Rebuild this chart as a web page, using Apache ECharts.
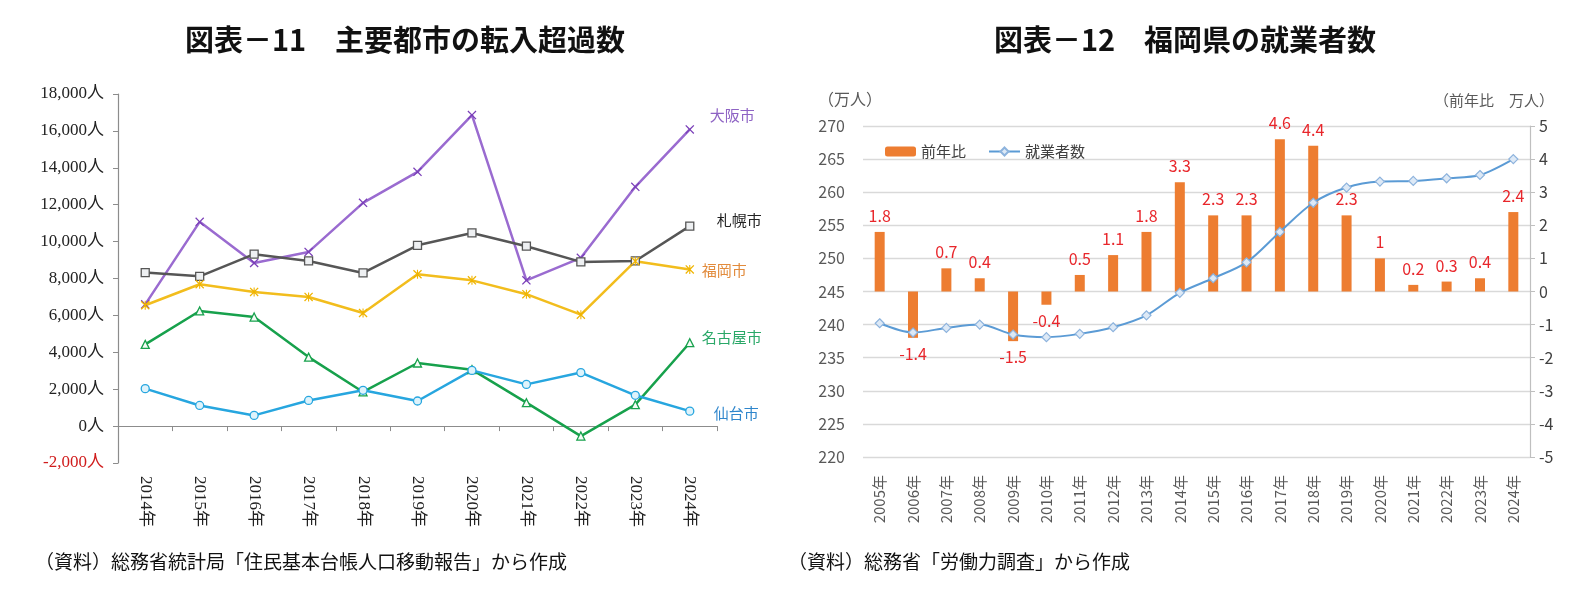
<!DOCTYPE html>
<html>
<head>
<meta charset="utf-8">
<script src="https://cdn.jsdelivr.net/npm/echarts@6/dist/echarts.min.js"></script>
<style>
  html, body { margin: 0; padding: 0; background: #fff; }
  #main { width: 1586px; height: 605px; }
</style>
</head>
<body>
<div id="main"></div>
<script>
// =====================
// データ（図表－11）
// =====================

const cityYears = ["2014年", "2015年", "2016年", "2017年", "2018年", "2019年", "2020年", "2021年", "2022年", "2023年", "2024年"];

const osaka = [6600, 11070, 8840, 9440, 12100, 13780, 16860, 7900, 9120, 12970, 16080];
const sapporo = [8320, 8120, 9320, 8950, 8300, 9800, 10470, 9750, 8900, 8950, 10840];
const fukuoka = [6550, 7690, 7270, 7000, 6130, 8230, 7900, 7150, 6040, 8940, 8490];
const nagoya = [4430, 6240, 5910, 3740, 1850, 3420, 3060, 1270, -540, 1160, 4520];
const sendai = [2030, 1120, 580, 1390, 1940, 1360, 3020, 2260, 2900, 1670, 810];

const cityTicks = { min: -2000, max: 18000, interval: 2000 };

// =====================
// データ（図表－12）
// =====================

const workYears = ["2005年", "2006年", "2007年", "2008年", "2009年", "2010年", "2011年", "2012年", "2013年", "2014年",
  "2015年", "2016年", "2017年", "2018年", "2019年", "2020年", "2021年", "2022年", "2023年", "2024年"];

const yoyChange = [1.8, -1.4, 0.7, 0.4, -1.5, -0.4, 0.5, 1.1, 1.8, 3.3, 2.3, 2.3, 4.6, 4.4, 2.3, 1, 0.2, 0.3, 0.4, 2.4];

const employed = [240.2, 238.8, 239.5, 240.0, 238.5, 238.1, 238.6, 239.6, 241.4, 244.8,
  247.0, 249.4, 254.0, 258.4, 260.7, 261.6, 261.7, 262.1, 262.6, 265.0];

const workTicks = { min: 220, max: 270, interval: 5 };
const yoyTicks = { min: -5, max: 5, interval: 1 };

// =====================
// 記号
// =====================

const crossPath = "path://M0,1L1,0L5,4L9,0L10,1L6,5L10,9L9,10L5,6L1,10L0,9L4,5Z";
const starPath = "path://M0,1L1,0L5,4L9,0L10,1L6,5L10,9L9,10L5,6L1,10L0,9L4,5ZM4.4,0L5.6,0L5.6,10L4.4,10Z";

const serif = "'Liberation Serif', 'Noto Sans CJK JP', serif";
const sans = "'Noto Sans CJK JP', 'Noto Sans', sans-serif";

function cityLine(name, data, color, symbol, symbolColor, labelColor, offset) {
  const isPath = symbol.indexOf("path") === 0;
  return {
    name: name,
    type: "line",
    xAxisIndex: 0,
    yAxisIndex: 0,
    data: data,
    symbol: symbol,
    symbolSize: isPath ? 9 : 8,
    lineStyle: { color: color, width: 2.5 },
    itemStyle: {
      color: symbolColor,
      borderColor: isPath ? symbolColor : color,
      borderWidth: isPath ? 0 : 1.3,
    },
    endLabel: {
      show: true,
      formatter: name,
      color: labelColor,
      fontFamily: sans,
      fontSize: 15,
      distance: 0,
      offset: offset,
    },
    z: 3,
  };
}

const chart = echarts.init(document.getElementById("main"));

chart.setOption({
  animation: false,
  backgroundColor: "#fff",

  title: [
    {
      text: "図表－11　主要都市の転入超過数",
      left: 400,
      top: 20,
      textAlign: "center",
      textStyle: { fontFamily: sans, fontSize: 29, fontWeight: "bold", color: "#111" },
    },
    {
      text: "図表－12　福岡県の就業者数",
      left: 1180,
      top: 20,
      textAlign: "center",
      textStyle: { fontFamily: sans, fontSize: 29, fontWeight: "bold", color: "#111" },
    },
    {
      text: "（資料）総務省統計局「住民基本台帳人口移動報告」から作成",
      left: 30,
      top: 547,
      textStyle: { fontFamily: sans, fontSize: 19, fontWeight: "normal", color: "#111" },
    },
    {
      text: "（資料）総務省「労働力調査」から作成",
      left: 783,
      top: 547,
      textStyle: { fontFamily: sans, fontSize: 19, fontWeight: "normal", color: "#111" },
    },
  ],

  graphic: [
    {
      type: "text",
      left: 818,
      top: 91,
      style: { text: "（万人）", font: "16px " + sans, fill: "#595959" },
    },
    {
      type: "text",
      left: 1434,
      top: 93,
      style: { text: "（前年比　万人）", font: "15px " + sans, fill: "#595959" },
    },
  ],

  legend: {
    data: ["前年比", "就業者数"],
    left: 880,
    top: 139,
    itemWidth: 31,
    itemHeight: 10,
    itemGap: 22,
    textStyle: { fontFamily: sans, fontSize: 15, color: "#404040" },
  },

  grid: [
    { left: 118, top: 94, width: 599, height: 369 },
    { left: 863, top: 126, width: 667, height: 331 },
  ],

  xAxis: [
    {
      type: "category",
      gridIndex: 0,
      data: cityYears,
      position: "bottom",
      axisLine: { show: false, onZero: false },
      axisTick: { show: false },
      axisLabel: {
        rotate: -90,
        interval: 0,
        margin: 13,
        fontFamily: serif,
        fontSize: 17,
        color: "#222",
      },
    },
    {
      type: "category",
      gridIndex: 0,
      data: cityYears,
      position: "top",
      axisLine: { show: true, onZero: true, lineStyle: { color: "#8c8c8c", width: 1.2 } },
      axisTick: { show: true, inside: true, length: 5, lineStyle: { color: "#8c8c8c" } },
      axisLabel: { show: false },
    },
    {
      type: "category",
      gridIndex: 1,
      data: workYears,
      axisLine: { show: false },
      axisTick: { show: false },
      axisLabel: {
        rotate: 90,
        interval: 0,
        margin: 18,
        fontFamily: sans,
        fontSize: 15,
        color: "#595959",
      },
    },
  ],

  yAxis: [
    {
      type: "value",
      gridIndex: 0,
      min: cityTicks.min,
      max: cityTicks.max,
      interval: cityTicks.interval,
      splitLine: { show: false },
      axisLine: { show: true, lineStyle: { color: "#8c8c8c", width: 1.2 } },
      axisTick: { show: true, length: 5, lineStyle: { color: "#8c8c8c" } },
      axisLabel: {
        margin: 14,
        fontFamily: serif,
        fontSize: 17,
        color: "#222",
        formatter: (v) => {
          const s = v.toLocaleString("en-US") + "人";
          return v < 0 ? "{neg|" + s + "}" : s;
        },
        rich: { neg: { color: "#d01c1c", fontFamily: serif, fontSize: 17 } },
      },
    },
    {
      type: "value",
      gridIndex: 1,
      position: "left",
      min: workTicks.min,
      max: workTicks.max,
      interval: workTicks.interval,
      splitLine: { show: true, lineStyle: { color: "#d9d9d9", width: 1.3 } },
      axisLine: { show: false },
      axisTick: { show: false },
      axisLabel: { margin: 18, fontFamily: sans, fontSize: 16, color: "#595959" },
    },
    {
      type: "value",
      gridIndex: 1,
      position: "right",
      min: yoyTicks.min,
      max: yoyTicks.max,
      interval: yoyTicks.interval,
      splitLine: { show: false },
      axisLine: { show: true, lineStyle: { color: "#bfbfbf", width: 1.2 } },
      axisTick: { show: true, length: 5, lineStyle: { color: "#bfbfbf" } },
      axisLabel: { margin: 9, fontFamily: sans, fontSize: 16, color: "#404040" },
    },
  ],

  series: [
    cityLine("大阪市", osaka, "#9a6bd0", crossPath, "#7a3fb8", "#8e63c4", [20, -14]),
    cityLine("札幌市", sapporo, "#565656", "rect", "#eef0f2", "#222", [27, -6]),
    cityLine("福岡市", fukuoka, "#f2bd1d", starPath, "#f0b400", "#e28b3c", [12, 1]),
    cityLine("名古屋市", nagoya, "#17a14c", "triangle", "#f4fbf6", "#2aa868", [12, -5]),
    cityLine("仙台市", sendai, "#27a6df", "circle", "#dff3fb", "#2f86cc", [24, 2]),

    {
      name: "前年比",
      type: "bar",
      xAxisIndex: 2,
      yAxisIndex: 2,
      barWidth: 10,
      itemStyle: { color: "#ed7d31" },
      data: yoyChange.map((v) => ({
        value: v,
        label: { position: v < 0 ? "bottom" : "top" },
      })),
      label: {
        show: true,
        distance: 8,
        color: "#e8262b",
        fontFamily: sans,
        fontSize: 16,
      },
      z: 2,
    },
    {
      name: "就業者数",
      type: "line",
      xAxisIndex: 2,
      yAxisIndex: 1,
      data: employed,
      smooth: 0.3,
      symbol: "diamond",
      symbolSize: 9,
      lineStyle: { color: "#5b9bd5", width: 2 },
      itemStyle: { color: "#dde9f6", borderColor: "#8db3dd", borderWidth: 1.2 },
      z: 3,
    },
  ],
});
</script>
</body>
</html>
